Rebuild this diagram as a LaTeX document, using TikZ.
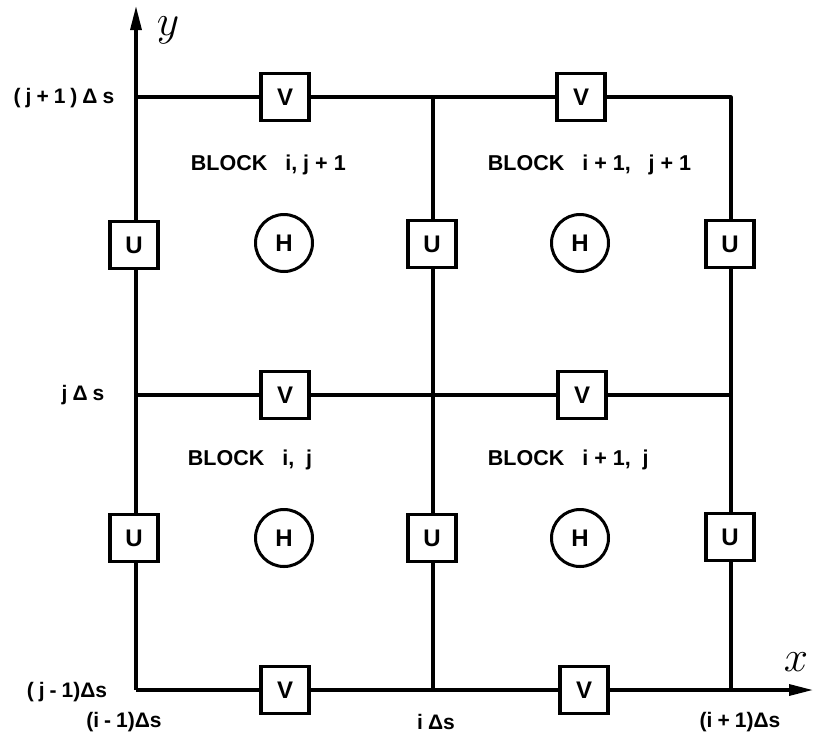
\documentclass[tikz,border=0pt]{standalone}
\usepackage{fontspec}
\setmainfont{Liberation Sans}
\usetikzlibrary{arrows.meta}
\newcommand{\gp}{\hspace{5pt}}
\newcommand{\gq}{\hspace{6pt}}
\begin{document}
\begin{tikzpicture}[x=1pt,y=-1pt,line width=3.2pt,
  txt/.style={font=\fontsize{21}{22}\selectfont\bfseries},
  btxt/.style={font=\fontsize{21.5}{22}\selectfont\bfseries},
  box/.style={draw,fill=white,minimum width=48pt,minimum height=47pt,inner sep=0pt,line width=3.2pt,font=\fontsize{24}{24}\selectfont\bfseries},
  hcirc/.style={draw,circle,fill=white,minimum size=57pt,inner sep=0pt,line width=3pt,font=\fontsize{24}{24}\selectfont\bfseries},
  axis/.style={-{Triangle[length=24pt,width=11pt]}},
  scr/.style={font=\fontsize{20}{20}\selectfont,scale=2.1}]
\useasboundingbox (0,0) rectangle (813,737);
% grid corners
\coordinate (a0) at (136,690); \coordinate (a1) at (136,395); \coordinate (a2) at (136,97);
\coordinate (b0) at (433,690); \coordinate (b1) at (433,395); \coordinate (b2) at (433,97);
\coordinate (c0) at (731,690); \coordinate (c1) at (731,395); \coordinate (c2) at (731,97);
\coordinate (ytip) at (136,6);
\coordinate (xtip) at (813,690);
% axes
\draw[axis] (a0) -- (ytip);
\draw[axis] (a0) -- (xtip);
% grid lines
\draw (a1) -- (c1);
\draw[line join=round] (a2) -- (c2) -- (c0);
\draw (b2) -- (b0);
% V boxes
\node[box] (v1) at (285,97) {V};
\node[box] (v2) at (581,97) {V};
\node[box] (v3) at (285,395) {V};
\node[box] (v4) at (582,395) {V};
\node[box] (v5) at (285,690) {V};
\node[box] (v6) at (584,690) {V};
% U boxes
\node[box] (u1) at (134,245) {U};
\node[box] (u2) at (432,244) {U};
\node[box] (u3) at (730,244) {U};
\node[box] (u4) at (134,538) {U};
\node[box] (u5) at (432,538) {U};
\node[box] (u6) at (730,537) {U};
% H circles
\node[hcirc] (h1) at (284,243) {H};
\node[hcirc] (h2) at (580,243) {H};
\node[hcirc] (h3) at (284,538) {H};
\node[hcirc] (h4) at (580,538) {H};
% block labels
\node[btxt,anchor=west] (l1) at (186,165) {BLOCK\ \ \ i,\gq j\gq+\gq 1};
\node[btxt,anchor=west] (l2) at (483,165) {BLOCK\ \ \ i\gq+\gq 1,\ \ \ j\gq+\gq 1};
\node[btxt,anchor=west] (l3) at (183,460) {BLOCK\ \ \ i,\ \ j};
\node[btxt,anchor=west] (l4) at (483,460) {BLOCK\ \ \ i\gq+\gq 1,\ \ j};
% axis labels
\node[txt] (ly2) at (64,98) {(\gp j\gp+\gp 1\gp)\gp Δ\gp s};
\node[txt] (ly1) at (83,395) {j\gp Δ\gp s};
\node[txt] (ly0) at (67,692) {(\gp j\gp -\gp 1)Δs};
\node[txt] (lx0) at (124,722) {(i\gp -\gp 1)Δs};
\node[txt] (lx1) at (436,722) {i\gp Δs};
\node[txt] (lx2) at (740,722) {(i\gp +\gp 1)Δs};
\node[scr] (ylab) at (168,30) {$y$};
\node[scr] (xlab) at (796,662) {$x$};
\end{tikzpicture}
\end{document}
